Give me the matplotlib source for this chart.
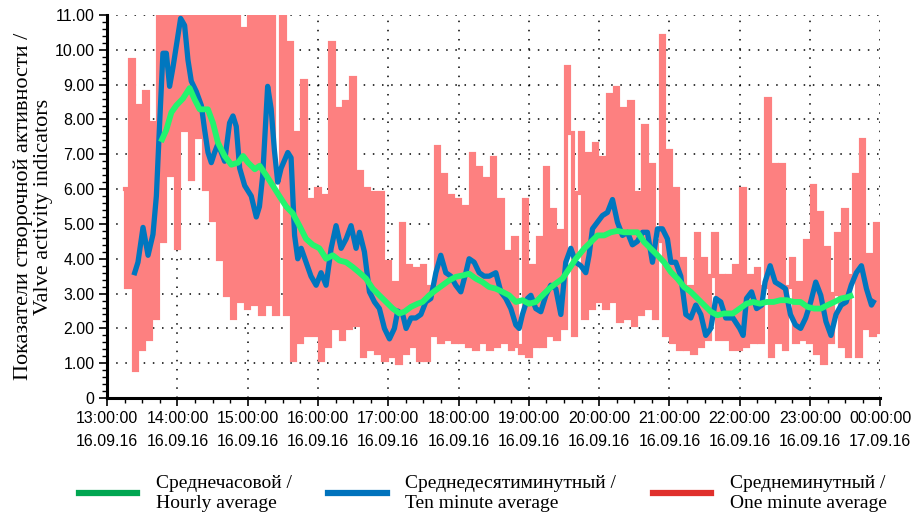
import matplotlib
matplotlib.use("Agg")
import matplotlib.pyplot as plt
from matplotlib.lines import Line2D
from matplotlib.ticker import AutoMinorLocator

# x = minutes after 13:00 16.09.16

# one minute average (read every 3 min, from 13:15)
red_start = 15
red_step = 3
red_vals = [
    6.0, 3.2, 9.7, 0.8, 8.4,      # 13:15
    1.4, 8.8, 1.7, 7.9, 2.3,      # 13:30
    11, 4.5, 11, 6.4, 11,         # 13:45
    4.3, 11, 7.7, 11, 6.3,        # 14:00
    11, 7.5, 11, 6.0, 11,         # 14:15
    5.1, 11, 4.0, 11, 2.95,       # 14:30
    11, 2.3, 11, 2.8, 10.6,       # 14:45
    2.6, 11, 2.7, 11, 2.4,        # 15:00
    11, 2.7, 11, 2.4, 5.8,        # 15:15
    11, 2.4, 10.2, 1.1, 7.6,      # 15:30
    1.6, 9.1, 1.8, 5.7, 1.8,      # 15:45
    6.0, 1.1, 5.8, 1.5, 10.2,     # 16:00
    2.0, 8.3, 1.7, 8.5, 2.0,      # 16:15
    9.2, 2.1, 6.5, 1.2, 6.0,      # 16:30
    1.4, 5.9, 1.3, 5.9, 1.1,      # 16:45
    3.9, 1.2, 3.3, 1.0, 5.0,      # 17:00
    1.3, 3.8, 1.5, 3.7, 1.1,      # 17:15
    3.8, 1.1, 3.2, 1.8, 7.2,      # 17:30
    1.6, 6.4, 1.7, 5.8, 1.6,      # 17:45
    5.7, 1.6, 5.5, 1.5, 7.0,      # 18:00
    1.4, 6.6, 1.6, 6.3, 1.4,      # 18:15
    6.9, 1.5, 5.7, 1.6, 4.2,      # 18:30
    1.4, 4.6, 1.5, 1.3, 5.7,      # 18:45
    1.2, 3.8, 1.5, 4.6, 1.5,      # 19:00
    6.6, 1.8, 5.4, 1.7, 4.8,      # 19:15
    2.0, 9.5, 7.6, 1.8, 5.9,      # 19:30
    7.6, 2.3, 7.0, 2.6, 7.3,      # 19:45
    2.8, 6.9, 2.6, 8.7, 2.8,      # 20:00
    8.9, 2.2, 8.3, 2.3, 8.5,      # 20:15
    2.1, 5.9, 2.4, 7.8, 2.6,      # 20:30
    6.7, 2.3, 4.5, 10.4, 1.8,     # 20:45
    7.1, 1.6, 6.0, 1.4, 4.0,      # 21:00
    1.4, 3.2, 1.3, 4.7, 1.5,      # 21:15
    4.0, 1.7, 3.5, 4.7, 1.7,      # 21:30
    3.5, 1.7, 3.5, 1.4, 3.8,      # 21:45
    1.4, 6.0, 1.5, 3.5, 1.6,      # 22:00
    3.7, 1.6, 3.2, 8.6, 1.2,      # 22:15
    6.7, 1.6, 6.7, 1.4, 3.2,      # 22:30
    4.0, 1.6, 3.3, 1.7, 4.5,      # 22:45
    1.6, 6.1, 1.3, 5.3, 1.0,      # 23:00
    4.3, 1.6, 3.0, 4.7, 1.5,      # 23:15
    5.4, 1.2, 3.5, 6.4, 1.2,      # 23:30
    7.4, 2.0, 4.1, 1.8, 5.0,      # 23:45
    1.9,
]
red_min = [red_start + red_step * i for i in range(len(red_vals))]

# ten minute average
blue_min = [23.5, 26.3, 30.6, 34.9, 39.1, 42, 44.8, 47.6, 50.5, 53.3, 56.2, 59,
            62.7, 66.1, 69, 71.8, 76.1, 80.4, 83.2, 86.1, 88.9, 91.7, 94.6, 100.3,
            104.5, 107.4, 110.2, 113.1, 117.4, 123, 127.3, 130, 132.8, 137, 140,
            142.8, 145.6, 148.5, 154.2, 157, 160, 162.7, 165.6, 169.8, 174, 178.4,
            182.6, 186.9, 191.2, 195.4, 199.7, 204, 208.2, 212.5, 215.4, 219.6,
            223.9, 228.2, 232.4, 236.7, 241, 245.2, 248, 252.3, 255.2, 259.4,
            263.5, 267.8, 272, 276.3, 280.6, 284.8, 289.1, 293.4, 297.6, 301.9,
            306.2, 309, 313.3, 317.6, 321.8, 326.1, 331.8, 336.1, 340.3, 344.6,
            348.9, 351.7, 354.5, 358.8, 361.7, 365.9, 370.2, 374.5, 378.7, 383,
            387.3, 391.5, 395.8, 400, 404.3, 408.6, 411.4, 414.3, 418.6, 422.8,
            427.1, 431.4, 435.6, 439.9, 444.2, 448.4, 452.7, 457, 461.2, 465.5,
            469.8, 474, 478.3, 481.2, 485.4, 489.7, 494, 498.2, 502.5, 506.8, 511,
            515.3, 519.6, 523.8, 528.1, 534.2, 540, 542.9, 545.8, 550.1, 554.4,
            558.8, 561.6, 566, 570.3, 574.6, 579, 583.3, 587.6, 592, 596.3, 600.6,
            604.9, 609.2, 613.6, 617.9, 622.2, 626.6, 630.9, 635.2, 639.6, 643.9,
            648.2, 652.5, 654]
blue_vals = [3.6, 3.9, 4.9, 4.1, 4.7, 5.8, 7.9, 9.9, 9.9, 8.95, 9.5, 10.1,
             10.9, 10.7, 9.7, 9.1, 8.8, 8.4, 7.7, 7.05, 6.76, 7.05, 7.3, 6.8,
             7.9, 8.1, 7.8, 6.6, 6.1, 5.8, 5.2, 5.5, 6.4, 8.95, 8.3,
             7.1, 6.2, 6.6, 7.05, 6.9, 4.67, 4.0, 4.3, 3.9, 3.5, 3.24,
             3.6, 3.24, 4.3, 4.95, 4.3, 4.57, 4.95, 4.3, 4.76, 4.2,
             3.05, 2.76, 2.57, 2.0, 1.7, 2.0, 2.5, 2.4, 2.0, 2.3,
             2.3, 2.4, 2.76, 2.86, 3.6, 4.1, 3.6, 3.5, 3.24, 3.05,
             3.6, 4.0, 3.9, 3.6, 3.5, 3.5, 3.6, 3.05, 2.86, 2.57,
             2.1, 2.0, 2.4, 2.86, 2.95, 2.57, 2.48, 2.95, 3.24, 3.14,
             2.4, 3.9, 4.3, 3.9, 3.8, 3.6, 4.1, 4.86, 5.05, 5.24,
             5.33, 5.7, 5.05, 4.67, 4.76, 4.4, 4.5, 4.76, 4.76, 3.9,
             4.86, 4.86, 4.57, 3.9, 3.9, 3.5, 2.4, 2.3, 2.67, 2.4, 1.8,
             2.0, 2.86, 2.76, 2.3, 2.3, 2.0, 1.8, 2.86, 3.05, 2.57,
             2.67, 3.33, 3.8, 3.33, 3.24, 3.14, 2.4, 2.1, 2.0, 2.3, 2.76,
             3.33, 2.95, 2.2, 1.8, 2.4, 2.67, 2.76, 3.24, 3.6, 3.8,
             3.14, 2.67, 2.76]

# hourly average
green_min = [46.9, 50.5, 54.8, 59, 64.7, 70.4, 74.7, 79, 86, 90.3, 94.6, 100.3,
             106, 111.7, 116, 120.3, 126, 130.2, 135.7, 141.4, 147, 152.8, 158.5,
             164.1, 169.8, 175.5, 181.2, 186.9, 192.6, 198.3, 204, 209.7, 215.4,
             221, 226.7, 232.4, 238.1, 243.8, 249.5, 253.8, 259.4, 265.1, 269.2,
             274.9, 280.6, 286.3, 292, 297.6, 303.3, 309, 314.7, 320.4, 326.1,
             331.8, 337.5, 343.2, 348.9, 354.5, 360.2, 365.9, 371.6, 377.3, 383,
             388.7, 394.4, 400.1, 407.2, 412.9, 418.6, 424.3, 430, 435.6, 441.3,
             447, 452.7, 458.4, 464.1, 469.8, 475.5, 481.2, 486.8, 492.5, 498.2,
             503.9, 509.6, 515.3, 521, 526.7, 534.2, 540, 545.8, 551.5, 557.3,
             563.1, 568.9, 574.6, 580.4, 586.2, 591.9, 597.7, 603.5, 609.2, 615,
             620.8, 626.6, 632.3, 634.6]
green_vals = [7.43, 7.7, 8.2, 8.4, 8.6, 8.9, 8.57, 8.29, 8.29, 7.9, 7.33, 6.95,
              6.7, 6.76, 6.95, 6.76, 6.57, 6.67, 6.4, 6.1, 5.8, 5.5, 5.3,
              4.95, 4.57, 4.4, 4.3, 4.0, 4.1, 3.95, 3.9, 3.76, 3.6,
              3.43, 3.14, 2.95, 2.76, 2.57, 2.43, 2.48, 2.62, 2.71, 2.76,
              2.95, 3.1, 3.24, 3.38, 3.48, 3.52, 3.57, 3.43, 3.33, 3.19,
              3.14, 3.05, 2.95, 2.76, 2.81, 2.71, 2.76, 2.95, 3.14, 3.29,
              3.43, 3.71, 4.0, 4.29, 4.48, 4.67, 4.67, 4.76, 4.8, 4.76,
              4.76, 4.76, 4.48, 4.29, 4.1, 3.9, 3.62, 3.43, 3.19, 3.05,
              2.86, 2.67, 2.48, 2.38, 2.43, 2.43, 2.57, 2.71, 2.76, 2.71,
              2.76, 2.76, 2.81, 2.81, 2.76, 2.76, 2.62, 2.57, 2.57, 2.67,
              2.76, 2.86, 2.9, 2.93]

hours = ["13:00:00", "14:00:00", "15:00:00", "16:00:00", "17:00:00", "18:00:00",
         "19:00:00", "20:00:00", "21:00:00", "22:00:00", "23:00:00", "00:00:00"]
dates = ["16.09.16"] * 11 + ["17.09.16"]
y_ticks = [0, 1, 2, 3, 4, 5, 6, 7, 8, 9, 10, 11]

names = ["Среднечасовой /\nHourly average",
         "Среднедесятиминутный /\nTen minute average",
         "Среднеминутный /\nOne minute average"]

sans = "Liberation Sans"
serif = "Liberation Serif"

fig = plt.figure(figsize=(9.16, 5.15), dpi=100)
ax = fig.add_axes([0.117, 0.227, 0.844, 0.744])

ax.plot(red_min, red_vals, color="#fd8080", lw=3.0, drawstyle="steps-mid",
        solid_joinstyle="miter", zorder=2)
ax.plot(blue_min, blue_vals, color="#0077bf", lw=3.8, zorder=3)
ax.plot(green_min, green_vals, color="#22f56e", lw=4.2, zorder=4)

ax.set_xlim(0, 660)
ax.set_ylim(0, 11)

xt = [60 * i for i in range(len(hours))]
ax.set_xticks(xt, [h + "\n" + d for h, d in zip(hours, dates)])
for t in ax.get_xticklabels():
    t.set_linespacing(1.7)
    t.set_fontfamily(sans)
    t.set_fontsize(11.5)
ax.set_xticks([m for m in range(15, 660, 15) if m % 60], minor=True)
ax.set_yticks(y_ticks, ["0"] + ["%.2f" % v for v in y_ticks[1:]])
for t in ax.get_yticklabels():
    t.set_fontfamily(sans)
    t.set_fontsize(11.5)
ax.yaxis.set_minor_locator(AutoMinorLocator(5))

ax.tick_params(which="major", length=6, width=1.2, color="black", pad=3)
ax.tick_params(which="minor", length=3.5, width=1.0, color="black")
ax.grid(True, which="major", color="black", linestyle=(0, (1, 5)), lw=1.1)
ax.set_axisbelow(True)

for s in ["top", "right"]:
    ax.spines[s].set_visible(False)
for s in ["left", "bottom"]:
    ax.spines[s].set_linewidth(2.2)
    ax.spines[s].set_zorder(6)

ax.set_ylabel("Показатели створочной активности /\nValve activity indicators",
              fontfamily=serif, fontsize=16, labelpad=1, linespacing=1.1)

handles = [Line2D([], [], color="#00a651", lw=4.5),
           Line2D([], [], color="#0072bc", lw=4.5),
           Line2D([], [], color="#e0302c", lw=4.5)]
fig.legend(handles, names, loc="lower center", bbox_to_anchor=(0.527, -0.028),
           ncol=3, frameon=False, handlelength=3.0, handletextpad=0.95,
           columnspacing=1.9, labelspacing=0.2,
           prop={"family": serif, "size": 14})

fig.savefig("out.png", dpi=100)
